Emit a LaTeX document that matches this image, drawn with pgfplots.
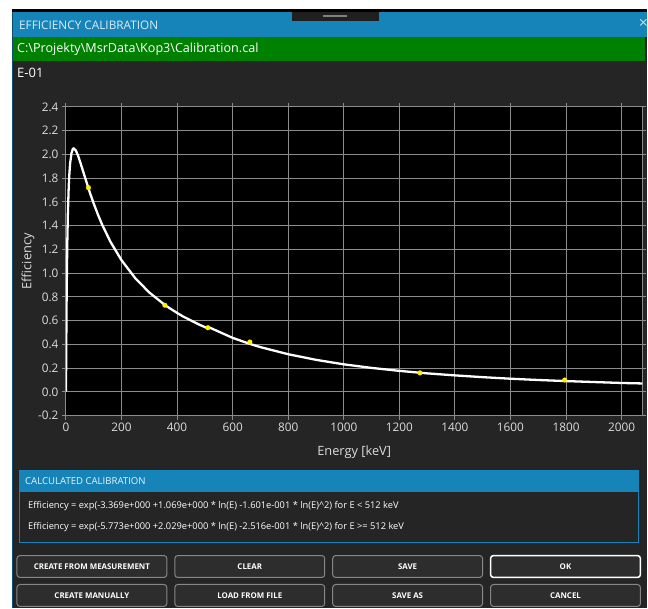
\documentclass[border=0pt]{standalone}
\usepackage{fontspec}
\setmainfont{Open Sans}
\usepackage{pgfplots}
\pgfplotsset{compat=1.18}
\definecolor{dlgbg}{RGB}{37,37,37}
\definecolor{titleblue}{RGB}{22,132,184}
\definecolor{pathgreen}{RGB}{0,128,0}
\definecolor{gridgray}{RGB}{140,140,140}
\definecolor{ticktext}{RGB}{220,220,220}
\definecolor{btnfill}{RGB}{45,45,45}
\definecolor{btnedge}{RGB}{135,135,135}
\definecolor{markyellow}{RGB}{255,240,0}

\begin{document}
\begin{tikzpicture}
% dialog chrome, coordinates in screen pixels (y down)
\begin{scope}[x=1pt,y=-1pt]
\fill[white] (0,0) rectangle (648,609);
\fill[black] (12,9) rectangle (648,12);
\fill[dlgbg] (12,12) rectangle (648,609);
\fill[titleblue] (12,12) rectangle (648,37);
\draw[titleblue!60!black, line width=1pt] (12.5,12) -- (12.5,609);
\fill[black!88] (292,12) rectangle (379,21);
\draw[gray, line width=1.5pt] (323,16) -- (347,16);
\node[anchor=west, inner sep=0pt, text=white!85!titleblue, font=\fontsize{11.8}{13}\selectfont] at (19,25) {EFFICIENCY CALIBRATION};
\node[inner sep=0pt, text=white!75!titleblue, font=\fontsize{16}{16}\selectfont] at (644,24) {×};
\fill[pathgreen] (13,37) rectangle (646,61);
\node[anchor=west, inner sep=0pt, text=white, font=\fontsize{12.6}{14}\selectfont] at (17,49) {C:\textbackslash Projekty\textbackslash MsrData\textbackslash Kop3\textbackslash Calibration.cal};
\node[anchor=west, inner sep=0pt, text=white, font=\fontsize{13}{15}\selectfont] at (17,73) {E-01};
% calculated calibration panel
\fill[titleblue] (19,470) rectangle (640,492);
\draw[titleblue, line width=1pt] (19.5,470.5) rectangle (639.5,542.5);
\node[anchor=west, inner sep=0pt, text=white!90!titleblue, font=\fontsize{9.6}{11}\selectfont] at (25,481) {CALCULATED CALIBRATION};
\node[anchor=west, inner sep=0pt, text=white, font=\fontsize{9.3}{11}\selectfont] at (28,507) {Efficiency = exp(-3.369e+000 +1.069e+000 * ln(E) -1.601e-001 * ln(E)\textasciicircum 2) for E < 512 keV};
\node[anchor=west, inner sep=0pt, text=white, font=\fontsize{9.3}{11}\selectfont] at (28,528) {Efficiency = exp(-5.773e+000 +2.029e+000 * ln(E) -2.516e-001 * ln(E)\textasciicircum 2) for E >= 512 keV};
% buttons
\foreach \bx/\by/\txt in {17/556/CREATE FROM MEASUREMENT, 175/556/CLEAR, 333/556/SAVE,
                          17/585/CREATE MANUALLY, 175/585/LOAD FROM FILE, 333/585/SAVE AS, 491/585/CANCEL} {
  \draw[btnedge, fill=btnfill, line width=1pt, rounded corners=3pt] (\bx,\by) rectangle ++(150,22);
  \node[inner sep=0pt, text=white, font=\bfseries\fontsize{7.9}{9}\selectfont] at (\bx+75,\by+11) {\txt};
}
\draw[white, fill=btnfill, line width=1.5pt, rounded corners=3pt] (491,556) rectangle ++(150,22);
\node[inner sep=0pt, text=white, font=\bfseries\fontsize{7.9}{9}\selectfont] at (566,567) {OK};
\end{scope}

\begin{axis}[
    at={(66pt,-416pt)}, anchor=south west,
    scale only axis, width=577pt, height=309pt,
    axis background/.style={fill=black},
    xmin=0, xmax=2075, ymin=-0.2, ymax=2.4,
    xtick={0,200,400,600,800,1000,1200,1400,1600,1800,2000},
    ytick={-0.2,0,0.2,0.4,0.6,0.8,1.0,1.2,1.4,1.6,1.8,2.0,2.2,2.4},
    grid=major,
    major grid style={gridgray, line width=1pt},
    axis line style={gridgray, line width=1pt},
    tick style={gridgray, line width=1pt},
    tick align=outside, major tick length=4pt,
    /pgf/number format/assume math mode=true,
    tick label style={ticktext, font=\fontsize{11.8}{13}\selectfont},
    xticklabel style={/pgf/number format/1000 sep={}},
    yticklabel style={/pgf/number format/.cd, fixed, fixed zerofill, precision=1},
    xlabel={Energy [keV]}, ylabel={Efficiency},
    every axis x label/.style={at={(axis description cs:0.5,0)}, anchor=north, yshift=-27pt,
        text=ticktext, font=\fontsize{12.8}{14}\selectfont},
    every axis y label/.style={at={(axis description cs:0,0.5)}, rotate=90, anchor=center, yshift=38pt,
        text=ticktext, font=\fontsize{12.8}{14}\selectfont},
]
% efficiency curve, E < 512 keV
\addplot[white, line width=2.3pt] coordinates {
    (0.05,0.003) (0.1,0.013) (0.2,0.041) (0.5,0.152) (1,0.344) (2,0.669) (3,0.918)
    (5,1.270) (7,1.503) (10,1.727) (12,1.824) (15,1.924) (20,2.012) (25,2.046)
    (28,2.050) (35,2.035) (40,2.010) (45,1.980) (50,1.945) (60,1.871) (70,1.796)
    (80,1.722) (90,1.652) (100,1.586) (115,1.494) (130,1.410) (160,1.265)
    (200,1.109) (250,0.956) (300,0.837) (360,0.725) (400,0.665) (420,0.637)
    (480,0.566) (512,0.534)
};
% efficiency curve, E >= 512 keV
\addplot[white, line width=2.3pt] coordinates {
    (512,0.547) (600,0.455) (662,0.404) (700,0.377) (800,0.317) (900,0.270)
    (1000,0.232) (1100,0.202) (1200,0.177) (1300,0.156) (1400,0.139)
    (1500,0.124) (1600,0.111) (1700,0.100) (1800,0.091) (1900,0.083)
    (2000,0.075) (2075,0.071)
};
% measured points
\addplot[only marks, mark=*, mark size=2.3pt, mark options={draw=markyellow, fill=markyellow}] coordinates {
    (81,1.72) (356,0.73) (511,0.54) (662,0.42) (1274,0.16) (1795,0.10)
};
\end{axis}
\end{tikzpicture}
\end{document}
